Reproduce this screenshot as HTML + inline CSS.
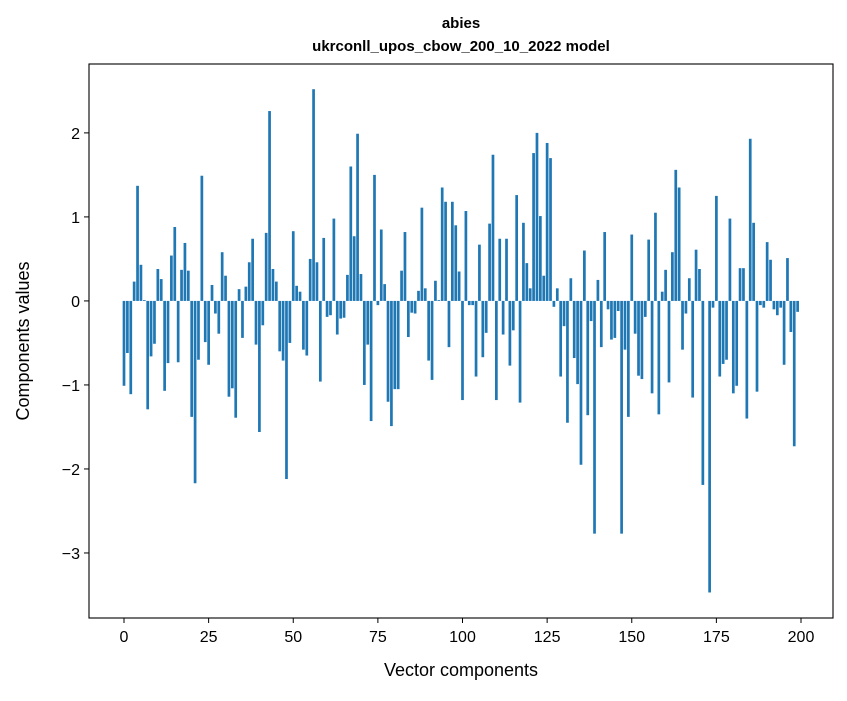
<!DOCTYPE html>
<html><head><meta charset="utf-8"><style>
body{margin:0;background:#fff;font-family:"Liberation Sans","DejaVu Sans",sans-serif}
</style></head><body>
<svg id="chart" width="847" height="696" xmlns="http://www.w3.org/2000/svg" font-family="Liberation Sans, DejaVu Sans, sans-serif">
<rect x="0" y="0" width="847" height="696" fill="#fff"/>
<text x="461" y="28" text-anchor="middle" font-size="15" font-weight="bold">abies</text>
<text x="461" y="51" text-anchor="middle" font-size="15" font-weight="bold">ukrconll_upos_cbow_200_10_2022 model</text>
<g id="bars"></g>
<g id="axes"></g>
<text x="461" y="676" text-anchor="middle" font-size="18">Vector components</text>
<text x="0" y="0" transform="translate(29,341) rotate(-90)" text-anchor="middle" font-size="18">Components values</text>
</svg>
<script>
const values = [-1.01,-0.62,-1.11,0.23,1.37,0.43,0.01,-1.29,-0.66,-0.51,0.38,0.26,-1.07,-0.74,0.54,0.88,-0.73,0.37,0.69,0.36,-1.38,-2.17,-0.70,1.49,-0.49,
-0.76,0.19,-0.15,-0.39,0.58,0.30,-1.14,-1.04,-1.39,0.14,-0.44,0.17,0.46,0.74,-0.52,-1.56,-0.29,0.81,2.26,0.38,0.23,-0.60,-0.71,-2.12,-0.50,
0.83,0.18,0.11,-0.58,-0.65,0.50,2.52,0.46,-0.96,0.75,-0.19,-0.17,0.98,-0.40,-0.21,-0.20,0.31,1.60,0.77,1.99,0.32,-1.00,-0.52,-1.43,1.50,
-0.05,0.85,0.20,-1.20,-1.49,-1.05,-1.05,0.36,0.82,-0.43,-0.14,-0.15,0.12,1.11,0.15,-0.71,-0.94,0.24,0.01,1.35,1.18,-0.55,1.18,0.90,0.35,
-1.18,1.07,-0.05,-0.05,-0.90,0.67,-0.67,-0.38,0.92,1.74,-1.18,0.74,-0.40,0.74,-0.77,-0.35,1.26,-1.21,0.93,0.45,0.15,1.76,2.00,1.01,0.30,
1.88,1.70,-0.07,0.15,-0.90,-0.30,-1.45,0.27,-0.68,-0.99,-1.95,0.60,-1.36,-0.24,-2.77,0.25,-0.55,0.82,-0.10,-0.46,-0.44,-0.12,-2.77,-0.58,-1.38,
0.79,-0.39,-0.89,-0.93,-0.19,0.73,-1.10,1.05,-1.35,0.11,0.37,-0.97,0.58,1.56,1.35,-0.58,-0.15,0.27,-1.15,0.61,0.38,-2.19,0.0,-3.47,-0.08,
1.25,-0.90,-0.75,-0.70,0.98,-1.10,-1.01,0.39,0.39,-1.40,1.93,0.93,-1.08,-0.05,-0.08,0.70,0.49,-0.10,-0.17,-0.08,-0.76,0.51,-0.37,-1.73,-0.13];
const xTicks = [0,25,50,75,100,125,150,175,200];
const yTicks = [-3,-2,-1,0,1,2];
const yTickLabels = ["\u22123","\u22122","\u22121","0","1","2"];

const L=89,R=833,T=64,B=618;
const xMin=-10.34,xMax=209.45,yMin=-3.774,yMax=2.82;
function xs(v){return L+(v-xMin)/(xMax-xMin)*(R-L);}
function ys(v){return B-(v-yMin)/(yMax-yMin)*(B-T);}
const NS="http://www.w3.org/2000/svg";
const bars=document.getElementById('bars');
values.forEach((v,i)=>{
  const r=document.createElementNS(NS,'rect');
  const x0=xs(i-0.4),x1=xs(i+0.4);
  const y0=ys(Math.max(v,0)),y1=ys(Math.min(v,0));
  r.setAttribute('x',x0);r.setAttribute('width',x1-x0);
  r.setAttribute('y',y0);r.setAttribute('height',Math.max(y1-y0,0));
  r.setAttribute('fill','#1f77b4');
  
  
  bars.appendChild(r);
});
const ax=document.getElementById('axes');
const frame=document.createElementNS(NS,'rect');
frame.setAttribute('x',L);frame.setAttribute('y',T);frame.setAttribute('width',R-L);frame.setAttribute('height',B-T);
frame.setAttribute('fill','none');frame.setAttribute('stroke','#000');frame.setAttribute('stroke-width','1.1');


ax.appendChild(frame);
xTicks.forEach(t=>{
  const x=xs(t);
  const l=document.createElementNS(NS,'line');
  l.setAttribute('x1',x);l.setAttribute('x2',x);l.setAttribute('y1',B);l.setAttribute('y2',B+5);l.setAttribute('stroke','#000');
  
  
  ax.appendChild(l);
  const tx=document.createElementNS(NS,'text');
  tx.setAttribute('x',x);tx.setAttribute('y',B+24);tx.setAttribute('text-anchor','middle');tx.setAttribute('font-size','16');
  tx.textContent=t;
  
  
  ax.appendChild(tx);
});
yTicks.forEach((t,i)=>{
  const y=ys(t);
  const l=document.createElementNS(NS,'line');
  l.setAttribute('x1',L-5);l.setAttribute('x2',L);l.setAttribute('y1',y);l.setAttribute('y2',y);l.setAttribute('stroke','#000');
  
  
  ax.appendChild(l);
  const tx=document.createElementNS(NS,'text');
  tx.setAttribute('x',L-9);tx.setAttribute('y',y+6);tx.setAttribute('text-anchor','end');tx.setAttribute('font-size','16');
  tx.textContent=yTickLabels[i];
  
  
  ax.appendChild(tx);
});
</script>
</body></html>
